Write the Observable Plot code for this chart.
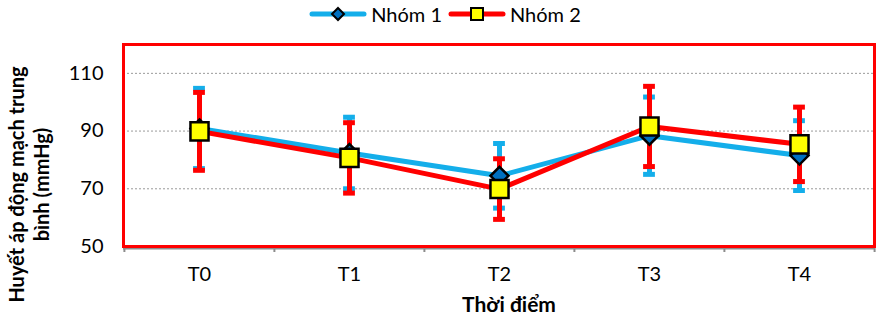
<!DOCTYPE html>
<html><head><meta charset="utf-8">
<script src="https://cdn.jsdelivr.net/npm/d3@7"></script>
<script src="https://cdn.jsdelivr.net/npm/@observablehq/plot@0.6"></script>
<style>
body{margin:0;background:#fff;font-family:Lato,"Noto Sans",sans-serif;}
#legend{height:28px;display:flex;justify-content:center;align-items:center;padding-left:20px;box-sizing:border-box;font-size:20px;color:#000;}
#legend .item{display:flex;align-items:center;margin:0 6px 0 0;}
#legend svg{display:block;margin-right:4px;}
</style></head><body>
<div id="legend"></div>
<div id="chart"></div>
<script>
const categories = ["T0", "T1", "T2", "T3", "T4"];
const seriesNames = ["Nhóm 1", "Nhóm 2"];
const group1Mean = [90.9, 82.4, 74.5, 88.4, 81.5];
const group1Err = [13.9, 12.4, 11.2, 13.4, 12.1];
const group2Mean = [89.9, 80.7, 69.9, 91.6, 85.4];
const group2Err = [13.5, 12.2, 10.5, 13.9, 12.9];
const yTicks = [50, 70, 90, 110];
const xTitle = "Thời điểm";
const yTitle = "Huyết áp động mạch trung\nbình (mmHg)";

const colors = {blue: "#14AEEA", red: "#FF0000", diamond: "#0070C0", square: "#FFFF00"};

const toRows = (means, errs, name) => categories.map((c, i) => ({
  cat: c, mean: means[i], lo: means[i] - errs[i], hi: means[i] + errs[i], series: name
}));
const g1 = toRows(group1Mean, group1Err, seriesNames[0]);
const g2 = toRows(group2Mean, group2Err, seriesNames[1]);

const width = 876, height = 292;
const margin = {top: 16, right: 2, bottom: 74, left: 123};
const halfBand = (width - margin.left - margin.right) / categories.length / 2;
const capInset = halfBand - 6;

const errMarks = (rows, color) => [
  Plot.ruleX(rows, {x: "cat", y1: "lo", y2: "hi", stroke: color, strokeWidth: 5}),
  Plot.tickY(rows, {x: "cat", y: "hi", stroke: color, strokeWidth: 5, insetLeft: capInset, insetRight: capInset}),
  Plot.tickY(rows, {x: "cat", y: "lo", stroke: color, strokeWidth: 5, insetLeft: capInset, insetRight: capInset})
];

const chart = Plot.plot({
  width, height,
  marginTop: margin.top, marginRight: margin.right, marginBottom: margin.bottom, marginLeft: margin.left,
  style: {fontFamily: "Lato, 'Noto Sans', sans-serif", fontSize: "20px", color: "#000", background: "#fff"},
  x: {type: "band", domain: categories, padding: 0, tickSize: 0, tickPadding: 20, label: null},
  y: {domain: [50, 120], ticks: yTicks, tickSize: 0, tickPadding: 20, label: null},
  marks: [
    Plot.ruleY(yTicks.filter(d => d > 50), {stroke: "#9a9a9a", strokeWidth: 1, strokeDasharray: "2,2"}),
    Plot.ruleY([50], {stroke: "#8c8c8c", strokeWidth: 2, dy: 2}),
    Plot.ruleX(categories, {x: d => d, dx: -halfBand, insetTop: 196, dy: 6, stroke: "#8c8c8c", strokeWidth: 2}),
    Plot.ruleX(categories.slice(-1), {x: d => d, dx: halfBand, insetTop: 196, dy: 6, stroke: "#8c8c8c", strokeWidth: 2}),
    Plot.frame({stroke: colors.red, strokeWidth: 3}),
    ...errMarks(g1, colors.blue),
    ...errMarks(g2, colors.red),
    Plot.line(g1, {x: "cat", y: "mean", stroke: colors.blue, strokeWidth: 5}),
    Plot.line(g2, {x: "cat", y: "mean", stroke: colors.red, strokeWidth: 5}),
    Plot.dot(g1, {x: "cat", y: "mean", symbol: "diamond2", r: 8.1, fill: colors.diamond, stroke: "#000", strokeWidth: 2.5}),
    Plot.dot(g2, {x: "cat", y: "mean", symbol: "square", r: 10.2, fill: colors.square, stroke: "#000", strokeWidth: 2.5}),
    Plot.text([xTitle], {frameAnchor: "bottom", dx: 10, dy: 59, fontWeight: "bold", fontSize: 21, lineAnchor: "middle"}),
    Plot.text([yTitle], {frameAnchor: "left", rotate: -90, dx: -95, dy: 39, fontWeight: "bold", fontSize: 20, lineAnchor: "middle", textAnchor: "middle", lineHeight: 1.22})
  ]
});
document.getElementById("chart").appendChild(chart);

// Legend
const legend = document.getElementById("legend");
const swatches = [
  {name: seriesNames[0], line: colors.blue, marker: `<path d="M29,4 L35,10 L29,16 L23,10 Z" fill="${colors.diamond}" stroke="#000" stroke-width="2"/>`},
  {name: seriesNames[1], line: colors.red, marker: `<rect x="23" y="4" width="12" height="12" fill="${colors.square}" stroke="#000" stroke-width="2"/>`}
];
for (const s of swatches) {
  const item = document.createElement("span");
  item.className = "item";
  item.innerHTML = `<svg width="58" height="20"><line x1="3" x2="55" y1="10" y2="10" stroke="${s.line}" stroke-width="5" stroke-linecap="round"/>${s.marker}</svg><span>${s.name}</span>`;
  legend.appendChild(item);
}
</script>
</body></html>
